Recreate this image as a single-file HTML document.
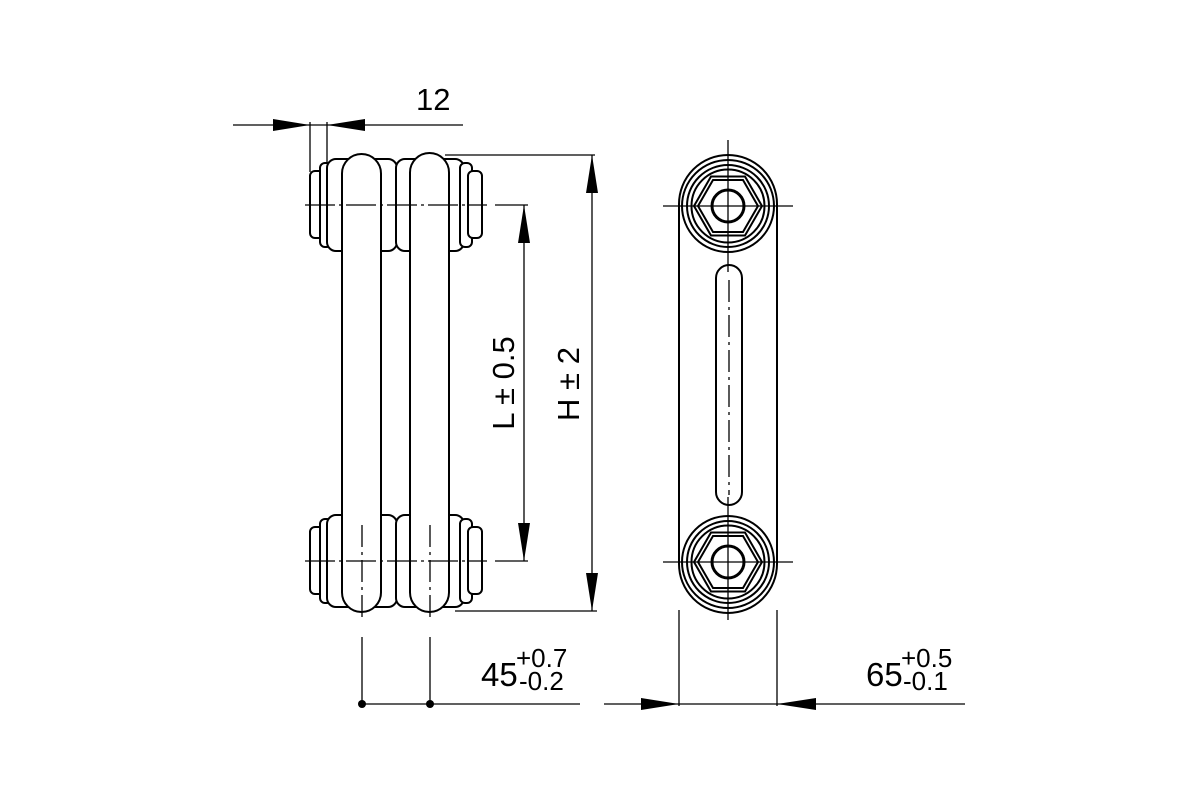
<!DOCTYPE html>
<html><head><meta charset="utf-8"><style>
html,body{margin:0;padding:0;background:#fff;width:1200px;height:800px;overflow:hidden}
svg text{font-family:"Liberation Sans",Arial,sans-serif;fill:#000}
</style></head><body>
<svg width="1200" height="800" viewBox="0 0 1200 800" xmlns="http://www.w3.org/2000/svg">
<g fill="#fff" stroke="#000" stroke-width="2">
  <rect x="310" y="171" width="14" height="67" rx="5"/>
  <rect x="320" y="163" width="12" height="84" rx="5"/>
  <rect x="327" y="159" width="70" height="92" rx="9"/>
  <rect x="396" y="159" width="68" height="92" rx="9"/>
  <rect x="460" y="163" width="12" height="84" rx="5"/>
  <rect x="468" y="171" width="14" height="67" rx="5"/>
  <rect x="310" y="527" width="14" height="67" rx="5"/>
  <rect x="320" y="519" width="12" height="84" rx="5"/>
  <rect x="327" y="515" width="70" height="92" rx="9"/>
  <rect x="396" y="515" width="68" height="92" rx="9"/>
  <rect x="460" y="519" width="12" height="84" rx="5"/>
  <rect x="468" y="527" width="14" height="67" rx="5"/>
  <rect x="342" y="154" width="39" height="458" rx="19.5"/>
  <rect x="410" y="153" width="39" height="459" rx="19.5"/>
</g>
<g stroke="#000" stroke-width="1.3" fill="none">
  <line x1="305" y1="205" x2="487" y2="205" stroke-dasharray="30,4,3,4"/>
  <line x1="495" y1="205" x2="528" y2="205"/>
  <line x1="305" y1="561" x2="487" y2="561" stroke-dasharray="30,4,3,4"/>
  <line x1="495" y1="561" x2="528" y2="561"/>
  <line x1="362" y1="525" x2="362" y2="622" stroke-dasharray="22,5,3,5"/>
  <line x1="430" y1="525" x2="430" y2="622" stroke-dasharray="22,5,3,5"/>
  <line x1="233" y1="125" x2="463" y2="125"/>
  <line x1="310" y1="122" x2="310" y2="172"/>
  <line x1="327" y1="122" x2="327" y2="162"/>
  <line x1="445" y1="155" x2="595" y2="155"/>
  <line x1="455" y1="611" x2="597" y2="611"/>
  <line x1="592" y1="155" x2="592" y2="611"/>
  <line x1="524" y1="205" x2="524" y2="561"/>
  <line x1="362" y1="637" x2="362" y2="704"/>
  <line x1="430" y1="637" x2="430" y2="704"/>
  <line x1="362" y1="704" x2="580" y2="704"/>
  <line x1="604" y1="704" x2="965" y2="704"/>
  <line x1="679" y1="610" x2="679" y2="706"/>
  <line x1="777" y1="610" x2="777" y2="706"/>
</g>
<g fill="#000">
  <polygon points="273,119 310,125 273,131"/>
  <polygon points="365,119 327,125 365,131"/>
  <polygon points="586,193 592,155 598,193"/>
  <polygon points="586,573 592,611 598,573"/>
  <polygon points="518,243 524,205 530,243"/>
  <polygon points="518,523 524,561 530,523"/>
  <polygon points="641,698 679,704 641,710"/>
  <polygon points="816,698 777,704 816,710"/>
  <circle cx="362" cy="704" r="4"/>
  <circle cx="430" cy="704" r="4"/>
</g>
<g stroke="#000" stroke-width="2" fill="none">
  <rect x="679" y="155" width="98" height="458" rx="49"/>
  <rect x="716" y="265" width="26" height="240" rx="13"/>
  <circle cx="728" cy="206" r="46"/>
  <circle cx="728" cy="206" r="41"/>
  <circle cx="728" cy="206" r="36.5"/>
  <polygon points="694,206 711,176.5 745,176.5 762,206 745,235.5 711,235.5"/>
  <polygon points="698,206 713,180 743,180 758,206 743,232 713,232"/>
  <circle cx="728" cy="206" r="16" stroke-width="3"/>
  <circle cx="728" cy="562" r="46"/>
  <circle cx="728" cy="562" r="41"/>
  <circle cx="728" cy="562" r="36.5"/>
  <polygon points="694,562 711,532.5 745,532.5 762,562 745,591.5 711,591.5"/>
  <polygon points="698,562 713,536 743,536 758,562 743,588 713,588"/>
  <circle cx="728" cy="562" r="16" stroke-width="3"/>
</g>
<g stroke="#000" stroke-width="1.3">
  <line x1="663" y1="206" x2="793" y2="206"/>
  <line x1="728" y1="140" x2="728" y2="272"/>
  <line x1="663" y1="562" x2="793" y2="562"/>
  <line x1="728" y1="497" x2="728" y2="620"/>
  <line x1="729" y1="280" x2="729" y2="495" stroke-dasharray="22,5,3,5"/>
</g>
<text x="416" y="110" font-size="31">12</text>
<text transform="translate(514,383) rotate(-90)" font-size="31" text-anchor="middle">L ± 0.5</text>
<text transform="translate(579,384) rotate(-90)" font-size="31" text-anchor="middle">H ± 2</text>
<text x="481" y="686" font-size="33">45</text>
<text x="516" y="667" font-size="26">+0.7</text>
<text x="519" y="690" font-size="26">-0.2</text>
<text x="866" y="686" font-size="33">65</text>
<text x="901" y="667" font-size="26">+0.5</text>
<text x="903" y="690" font-size="26">-0.1</text>
</svg>
</body></html>
